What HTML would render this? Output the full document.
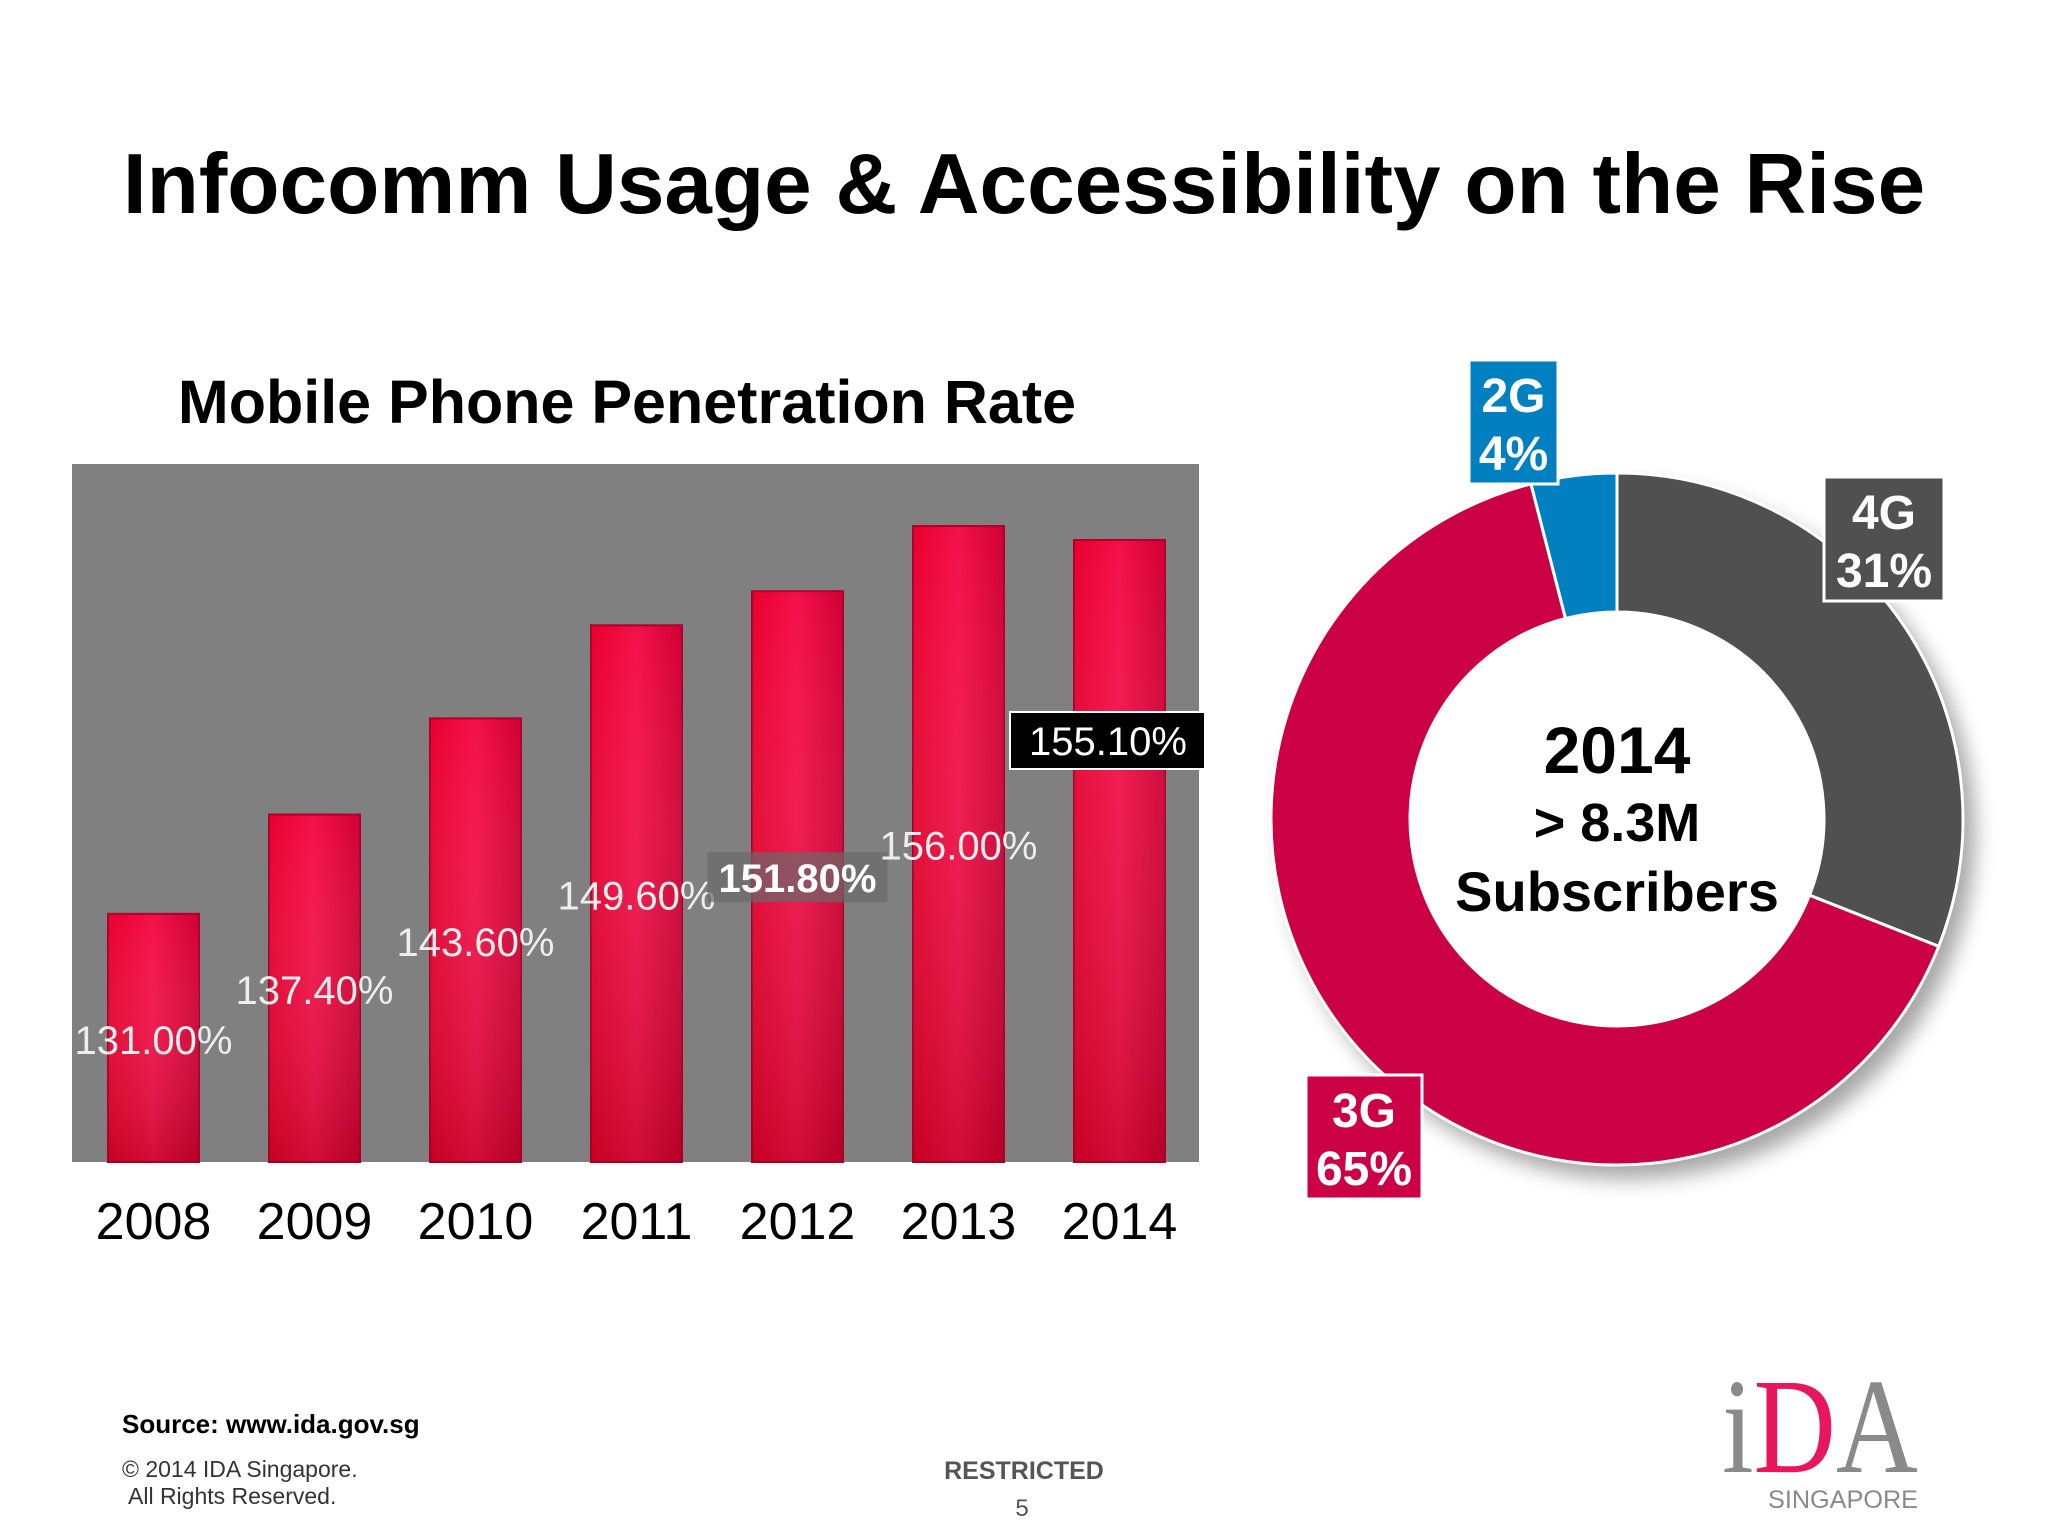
<!DOCTYPE html>
<html><head><meta charset="utf-8"><style>
html,body{margin:0;padding:0;background:#fff;}
svg{display:block;font-family:"Liberation Sans",sans-serif;}
</style></head><body>
<svg id="s" width="2048" height="1536" viewBox="0 0 2048 1536">
<defs>
<linearGradient id="bg" x1="0" y1="0" x2="1" y2="0"><stop offset="0" stop-color="#e8002e"/><stop offset="0.5" stop-color="#f5104a"/><stop offset="1" stop-color="#d00035"/></linearGradient>
<linearGradient id="bv" x1="0" y1="0" x2="0" y2="1"><stop offset="0" stop-color="#fff" stop-opacity="0"/><stop offset="1" stop-color="#600" stop-opacity="0.25"/></linearGradient>
<filter id="sh" x="-20%" y="-20%" width="140%" height="140%"><feGaussianBlur stdDeviation="10"/></filter>
</defs>
<text x="1024" y="213" text-anchor="middle" font-size="85.5" font-weight="bold" fill="#000">Infocomm Usage &amp; Accessibility on the Rise</text>
<text x="627" y="423" text-anchor="middle" font-size="61" font-weight="bold" fill="#000">Mobile Phone Penetration Rate</text>
<rect x="72" y="464" width="1127" height="698" fill="#808080"/>
<g id="bars"></g>
<g id="donut"></g>
<text x="122" y="1433" font-size="26" font-weight="bold" fill="#000">Source: www.ida.gov.sg</text>
<text x="122" y="1477" font-size="23" fill="#333">© 2014 IDA Singapore.</text>
<text x="128" y="1504" font-size="23" fill="#333">All Rights Reserved.</text>
<text x="1024" y="1479" text-anchor="middle" font-size="25" font-weight="bold" fill="#555">RESTRICTED</text>
<text x="1022" y="1516" text-anchor="middle" font-size="24" fill="#555">5</text>
<g>
<text x="1722" y="1472" font-size="136" font-family="Liberation Serif, serif" fill="#8a8a8a" textLength="196" lengthAdjust="spacingAndGlyphs">i<tspan fill="#e8175d">D</tspan>A</text>
<text x="1768" y="1508" font-size="25" fill="#8a8a8a" textLength="150" lengthAdjust="spacingAndGlyphs">SINGAPORE</text>
</g>
</svg>
<script>
const years=["2008","2009","2010","2011","2012","2013","2014"];
const rates=[131.0,137.4,143.6,149.6,151.8,156.0,155.1];
const rateLabels=["131.00%","137.40%","143.60%","149.60%","151.80%","156.00%","155.10%"];
const shareNames=["4G","3G","2G"];
const shares=[31,65,4];
const shareLabels=["31%","65%","4%"];

const NS="http://www.w3.org/2000/svg";
function mk(tag,attrs,parent,txt){const e=document.createElementNS(NS,tag);for(const k in attrs)e.setAttribute(k,attrs[k]);if(txt!==undefined)e.textContent=txt;parent.appendChild(e);return e;}
const yMin=115,yMax=160,pTop=464,pBot=1162,pL=72,pR=1199;
const y=v=>pBot-(v-yMin)/(yMax-yMin)*(pBot-pTop);
const x=i=>pL+(pR-pL)*(i+0.5)/years.length+1;
const ly=v=>1040-(v-131)*7.78;
const bars=document.getElementById('bars');
years.forEach((yr,i)=>{
  const bw=91,cx=x(i),top=y(rates[i]);
  const r=mk('rect',{x:cx-bw/2,y:top,width:bw,height:pBot-top,fill:'url(#bg)',stroke:'#b0002a','stroke-width':2},bars);
  
  
  const o=mk('rect',{x:cx-bw/2,y:top,width:bw,height:pBot-top,fill:'url(#bv)'},bars);
  
  
  const t=mk('text',{x:cx,y:1239,'text-anchor':'middle','font-size':52,fill:'#000'},bars,yr);
  
  
  let lx=cx,lyv=ly(rates[i])+14;
  if(i===6){
    const bx=mk('rect',{x:1010,y:712,width:195,height:57,fill:'#000',stroke:'#fff','stroke-width':2},bars);
    
    
    const l=mk('text',{x:1108,y:755,'text-anchor':'middle','font-size':40,fill:'#fff'},bars,rateLabels[i]);
    
    
    return;
  }
  if(i===4){
    const bx=mk('rect',{x:cx-90,y:lyv-40,width:180,height:50,fill:'#6a6a6a','fill-opacity':0.7},bars);
    
    
  }
  const l=mk('text',{x:lx,y:lyv,'text-anchor':'middle','font-size':40,fill:i===4?'#fff':'#eee','font-weight':i===4?'bold':'normal'},bars,rateLabels[i]);
  
  
});

const dn=document.getElementById('donut');
const cx=1617,cy=819,R=346,r0=207;
const sh=mk('circle',{cx:cx+12,cy:cy+14,r:R,fill:'#000','fill-opacity':0.35,filter:'url(#sh)'},dn);


const hole=mk('circle',{cx:cx,cy:cy,r:r0+2,fill:'#fff'},dn);


const cols=['#505050','#cc0044','#0080c0'];
const total=shares.reduce((a,b)=>a+b,0);
let a0=0;
const pt=(a,rr)=>[cx+rr*Math.sin(a),cy-rr*Math.cos(a)];
shares.forEach((s,i)=>{
  const a1=a0+s/total*2*Math.PI;
  const lg=(a1-a0)>Math.PI?1:0;
  const [x1,y1]=pt(a0,R),[x2,y2]=pt(a1,R),[x3,y3]=pt(a1,r0),[x4,y4]=pt(a0,r0);
  const p=mk('path',{d:`M${x1},${y1}A${R},${R} 0 ${lg} 1 ${x2},${y2}L${x3},${y3}A${r0},${r0} 0 ${lg} 0 ${x4},${y4}Z`,fill:cols[i],stroke:'#fff','stroke-width':3},dn);
  
  
  a0=a1;
});
const boxes=[[1824,477,120,124],[1306,1075,116,124],[1469,360,89,124]];
shareNames.forEach((n,i)=>{
  const [bx,by,bw,bh]=boxes[i];
  const b=mk('rect',{x:bx,y:by,width:bw,height:bh,fill:cols[i],stroke:'#fff','stroke-width':3},dn);
  
  
  const t1=mk('text',{x:bx+bw/2,y:by+52,'text-anchor':'middle','font-size':48,'font-weight':'bold',fill:'#fff'},dn,n);
  
  
  const t2=mk('text',{x:bx+bw/2,y:by+110,'text-anchor':'middle','font-size':48,'font-weight':'bold',fill:'#fff'},dn,shareLabels[i]);
  
  
});
const c1=mk('text',{x:cx,y:773,'text-anchor':'middle','font-size':66,'font-weight':'bold',fill:'#000'},dn,'2014');


const c2=mk('text',{x:cx,y:841,'text-anchor':'middle','font-size':54,'font-weight':'bold',fill:'#000'},dn,'> 8.3M');


const c3=mk('text',{x:cx,y:911,'text-anchor':'middle','font-size':56,'font-weight':'bold',fill:'#000'},dn,'Subscribers');


</script>
</body></html>
